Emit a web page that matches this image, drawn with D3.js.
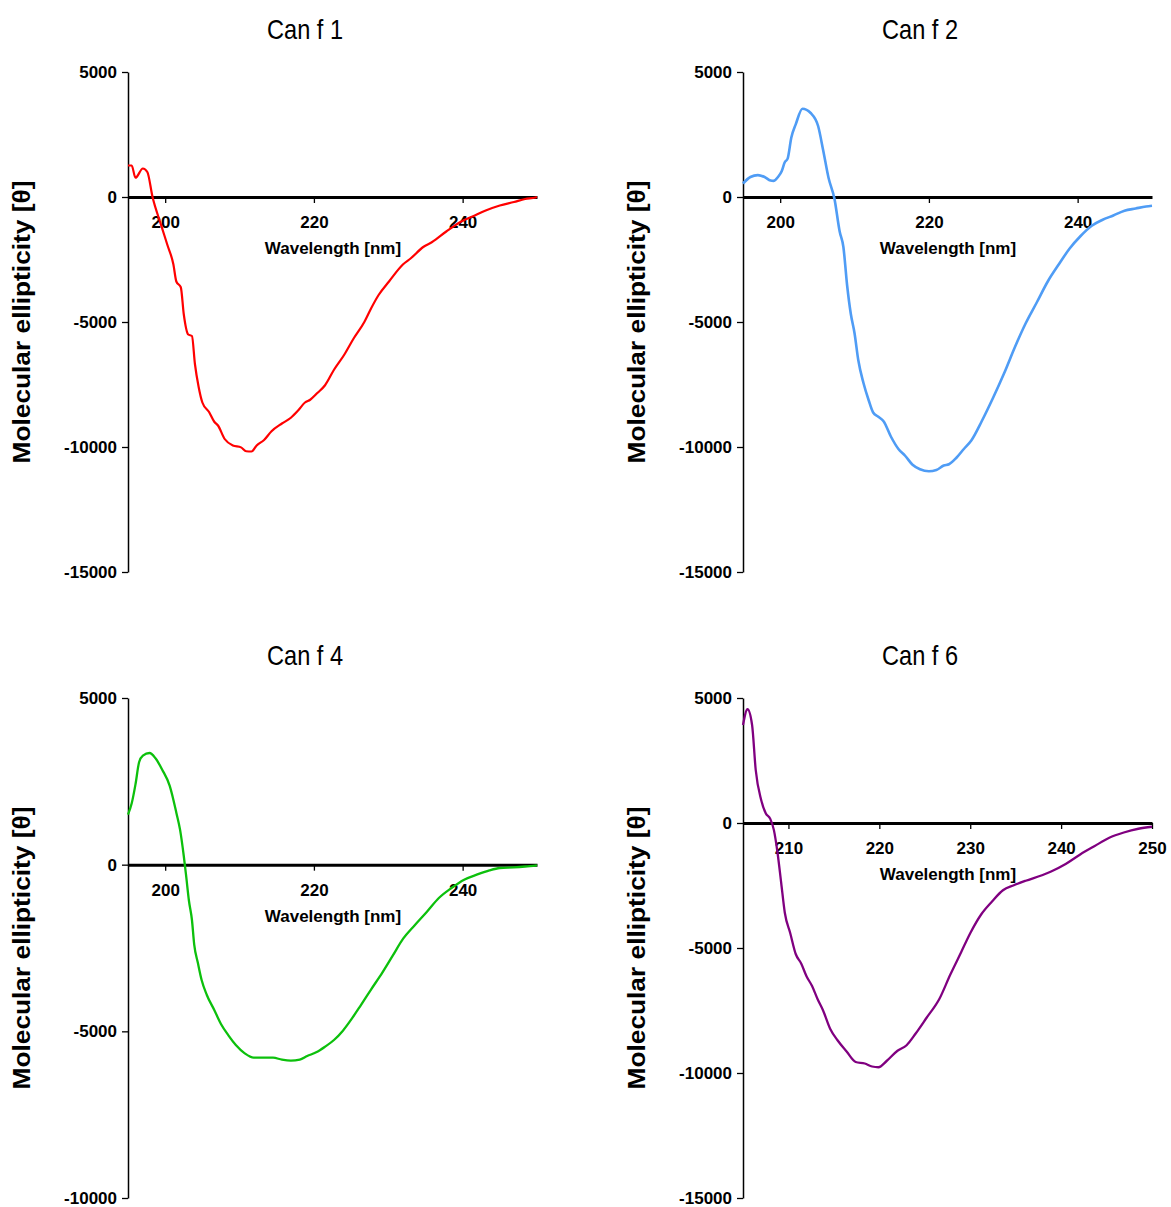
<!DOCTYPE html>
<html lang="en">
<head>
<meta charset="utf-8">
<title>Can f CD spectra</title>
<script src="https://cdn.jsdelivr.net/npm/d3@7"></script>
<style>
  body { margin: 0; background: #fff; }
  .tick text { font-family: "Liberation Sans", Arial, sans-serif; font-weight: bold; font-size: 17px; fill: #000; }
  .tick line { stroke: #000; stroke-width: 1.3px; }
  .yaxis .domain { stroke: #000; stroke-width: 1.5px; }
  .xaxis .domain { stroke: #000; stroke-width: 3px; }
  .ptitle { font-family: "Liberation Sans Narrow", "Arial Narrow", sans-serif; font-size: 28px; fill: #000; }
  .xlab { font-family: "Liberation Sans", Arial, sans-serif; font-weight: bold; font-size: 17px; }
  .ylab { font-family: "Liberation Sans", Arial, sans-serif; font-weight: bold; font-size: 24px; }
</style>
</head>
<body>
<div id="chart"></div>
<script>
// --- data (wavelength nm, molar ellipticity) ---
var titles = ["Can f 1", "Can f 2", "Can f 4", "Can f 6"];
var colors = ["#ff0000", "#4f9cf5", "#0cc00c", "#800080"];
var widths = [2.2, 2.6, 2.3, 2.3];

var canf1Wl = [195.0,195.5,196.0,197.0,197.6,198.3,199.4,200.3,201.1,201.5,202.1,202.5,203.1,203.6,204.0,204.5,205.0,205.9,206.6,207.1,208.0,209.1,210.2,210.9,211.6,212.3,213.3,214.3,215.7,216.9,217.9,218.8,219.5,220.5,221.5,222.7,224.1,225.3,226.8,227.7,228.7,230.1,232.0,233.0,234.7,235.9,237.8,239.7,241.4,243.1,245.0,246.9,248.4,249.8,250.0];
var canf1Val = [1260,1260,770,1140,1000,0,-1075,-1920,-2690,-3380,-3610,-4690,-5500,-5560,-6680,-7600,-8220,-8600,-8990,-9140,-9680,-9940,-10015,-10170,-10180,-9940,-9720,-9370,-9060,-8830,-8530,-8220,-8110,-7830,-7530,-6910,-6300,-5680,-4990,-4450,-3920,-3380,-2690,-2460,-2000,-1800,-1380,-1000,-770,-540,-340,-200,-80,-20,0];

var canf2Wl = [195.0,196.0,197.0,197.9,198.7,199.1,199.7,200.2,200.6,201.0,201.5,202.1,203.0,204.1,205.1,205.8,206.5,207.3,208.0,208.5,209.0,209.5,210.0,210.5,211.2,211.9,212.5,213.2,213.9,214.9,215.9,216.8,217.8,218.8,220.0,221.0,222.0,222.7,223.7,224.7,225.7,227.1,228.6,230.1,231.6,233.0,234.5,236.0,237.5,238.9,240.4,241.9,243.3,244.8,246.3,247.8,249.2,250.0];
var canf2Val = [540,800,875,800,660,645,800,1030,1380,1535,2380,2915,3530,3360,2840,1840,770,-75,-1380,-2000,-3530,-4680,-5450,-6520,-7440,-8130,-8620,-8790,-8970,-9590,-10080,-10350,-10710,-10890,-10970,-10920,-10740,-10690,-10430,-10080,-9740,-8970,-8050,-7060,-5980,-5060,-4220,-3370,-2680,-2070,-1560,-1150,-920,-740,-550,-460,-380,-350];

var canf4Wl = [195.0,195.5,196.0,196.5,197.0,197.9,198.7,199.6,200.6,201.1,201.5,202.0,202.5,202.8,203.2,203.6,203.9,204.4,204.9,205.6,206.6,207.5,208.5,209.5,210.7,211.9,213.3,214.5,215.7,216.9,218.1,219.1,220.3,221.5,222.7,223.9,225.1,226.3,227.7,229.2,230.6,232.0,233.5,235.2,236.8,238.5,240.2,241.9,243.6,245.0,246.9,248.4,250.0];
var canf4Val = [1500,1840,2400,3080,3270,3350,3190,2850,2370,1950,1560,1050,260,-300,-1090,-1660,-2390,-2950,-3460,-3910,-4360,-4780,-5120,-5410,-5660,-5790,-5790,-5790,-5850,-5880,-5850,-5740,-5630,-5460,-5260,-4980,-4620,-4220,-3740,-3240,-2730,-2220,-1830,-1410,-1000,-700,-450,-300,-170,-100,-80,-55,-20];

var canf6Wl = [205.0,205.5,206.0,206.4,207.0,207.5,208.0,208.4,208.8,209.2,209.6,210.2,210.8,211.4,212.0,212.6,213.2,213.8,214.6,215.4,216.4,217.4,218.4,219.2,219.9,220.8,222.0,223.0,224.0,225.2,226.6,227.8,229.0,230.0,231.2,232.4,233.6,234.8,236.1,237.9,238.9,240.5,242.1,243.7,245.3,246.9,248.5,250.0];
var canf6Val = [3920,4550,3920,2120,920,390,165,-285,-1190,-2390,-3590,-4410,-5240,-5620,-6140,-6520,-7040,-7490,-8240,-8690,-9140,-9560,-9620,-9740,-9770,-9520,-9110,-8890,-8420,-7790,-7040,-6070,-5170,-4410,-3660,-3140,-2690,-2490,-2310,-2090,-1940,-1640,-1260,-920,-590,-380,-230,-150];

var xDomains = [[195, 250], [195, 250], [195, 250], [205, 250]];
var yDomains = [[-15000, 5000], [-15000, 5000], [-10000, 5000], [-15000, 5000]];
var xTicks = [[200, 220, 240], [200, 220, 240], [200, 220, 240], [210, 220, 230, 240, 250]];
var yTicks = [[5000, 0, -5000, -10000, -15000], [5000, 0, -5000, -10000, -15000], [5000, 0, -5000, -10000], [5000, 0, -5000, -10000, -15000]];
var wls = [canf1Wl, canf2Wl, canf4Wl, canf6Wl];
var vals = [canf1Val, canf2Val, canf4Val, canf6Val];

var width = 1171, height = 1207;

var svg = d3.select("#chart").append("svg")
    .attr("width", width)
    .attr("height", height);

// panel origins (col, row)
var colX = [0, 615], rowY = [0, 626];

titles.forEach(function(t, i) {
  var ox = colX[i % 2], oy = rowY[Math.floor(i / 2)];
  var g = svg.append("g").attr("transform", "translate(" + ox + "," + oy + ")");

  var x = d3.scaleLinear().domain(xDomains[i]).range([128, 537]);
  var y = d3.scaleLinear().domain(yDomains[i]).range([572, 72]);

  // narrow title font is not installed, so squeeze it to the original width
  g.append("text")
      .attr("class", "ptitle")
      .attr("x", 305).attr("y", 39)
      .attr("text-anchor", "middle")
      .attr("textLength", 76)
      .attr("lengthAdjust", "spacingAndGlyphs")
      .text(t);

  g.append("g")
      .attr("class", "yaxis")
      .attr("transform", "translate(128,0)")
      .call(d3.axisLeft(y).tickValues(yTicks[i]).tickSize(6).tickSizeOuter(0).tickPadding(5)
        .tickFormat(function(d) { return String(d); }));

  var xa = g.append("g")
      .attr("class", "xaxis")
      .attr("transform", "translate(0," + y(0) + ")")
      .call(d3.axisBottom(x).tickValues(xTicks[i]).tickSize(6).tickSizeOuter(0)
        .tickFormat(function(d) { return String(d); }));
  xa.selectAll(".tick text").attr("y", 31).attr("dy", null);

  g.append("text")
      .attr("class", "xlab")
      .attr("x", 333).attr("y", y(0) + 57)
      .attr("text-anchor", "middle")
      .text("Wavelength [nm]");

  g.append("text")
      .attr("class", "ylab")
      .attr("text-anchor", "middle")
      .attr("transform", "translate(30,322) rotate(-90)")
      .attr("textLength", 283)
      .attr("lengthAdjust", "spacingAndGlyphs")
      .text("Molecular ellipticity [θ]");

  var line = d3.line()
      .x(function(d) { return x(d[0]); })
      .y(function(d) { return y(d[1]); })
      .curve(d3.curveMonotoneX);

  g.append("path")
      .datum(d3.zip(wls[i], vals[i]))
      .attr("fill", "none")
      .attr("stroke", colors[i])
      .attr("stroke-width", widths[i])
      .attr("stroke-linejoin", "round")
      .attr("d", line);
});
</script>
</body>
</html>
